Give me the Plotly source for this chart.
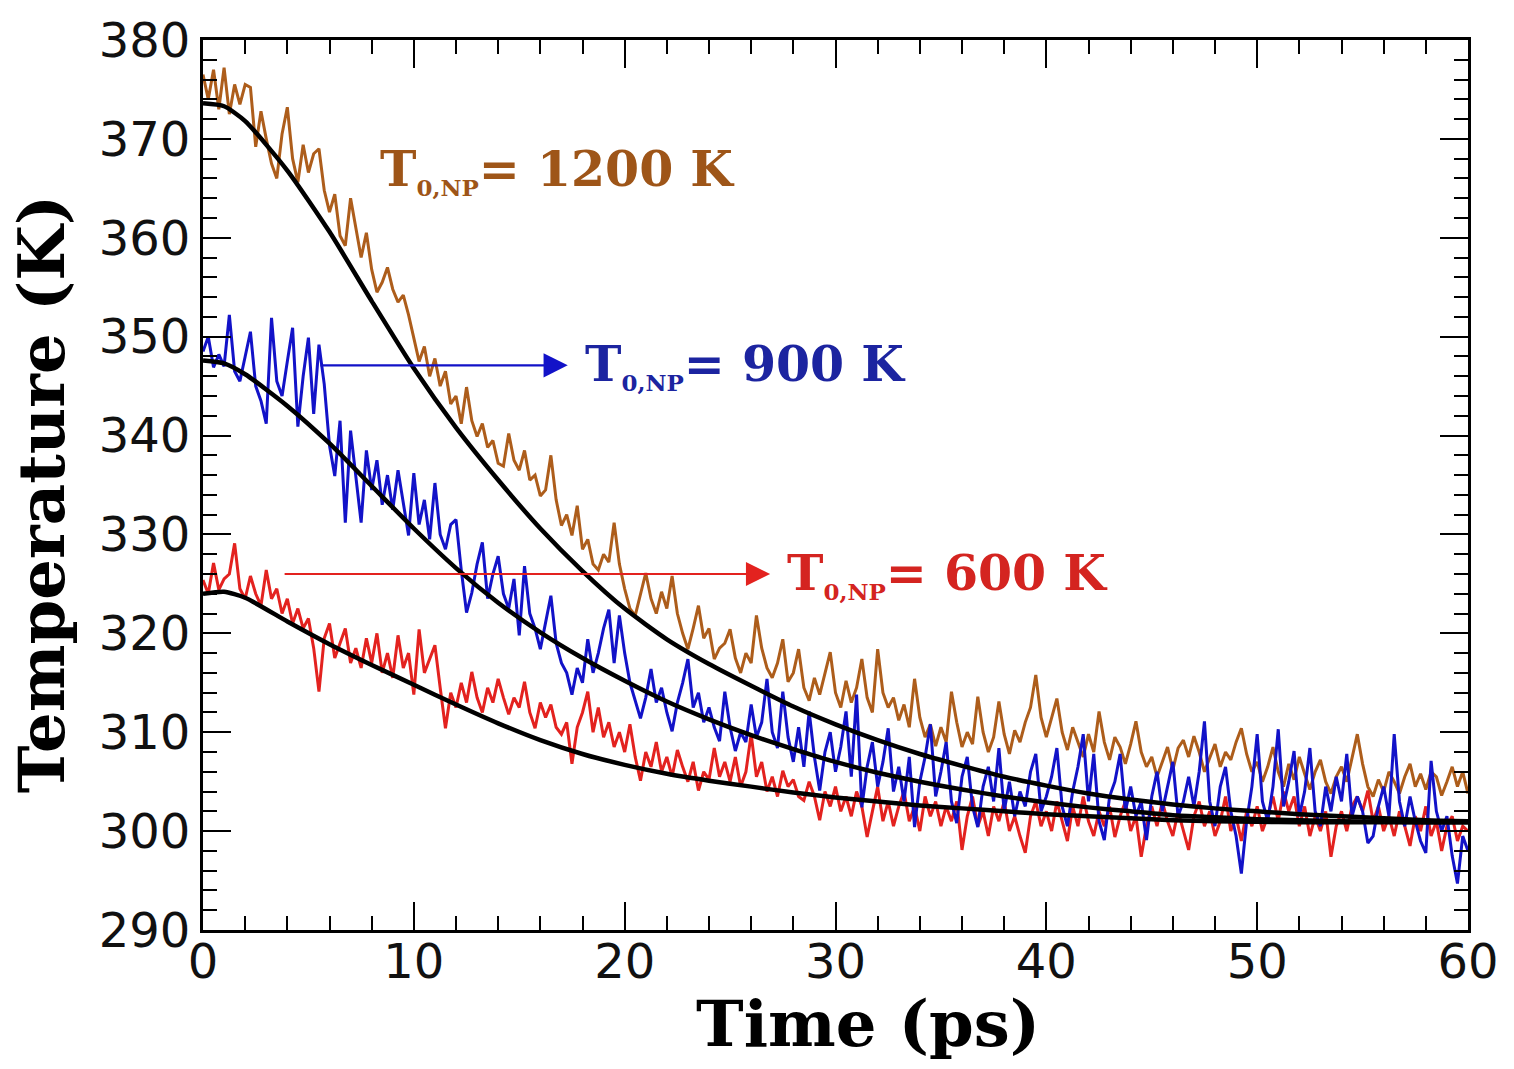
import plotly.graph_objects as go

# ---------------- data ----------------
# noisy simulation traces, sampled every 0.25 ps from 0 to 60 ps
time_step = 0.25
brown_T = [
    376.5, 374.0, 377.0, 373.0, 377.2, 372.5, 375.5, 373.5, 375.5, 375.2, 369.2, 372.8, 370.0, 367.5, 366.0, 370.5, 373.2, 368.0, 365.6, 369.4,
    366.6, 368.5, 369.0, 364.8, 362.6, 364.4, 360.2, 359.2, 364.0, 361.0, 358.0, 360.5, 356.8, 354.5, 355.5, 357.0, 354.8, 353.5, 354.2, 352.2,
    350.0, 347.5, 349.0, 346.0, 347.8, 345.0, 346.5, 343.2, 344.0, 341.2, 344.9, 341.5, 339.9, 341.2, 338.8, 339.5, 337.2, 336.9, 340.2, 337.5,
    336.5, 338.5, 335.5, 336.0, 333.9, 334.5, 338.0, 333.5, 330.9, 332.0, 329.9, 332.9, 328.5, 329.5, 327.0, 326.4, 328.0, 327.2, 331.2, 327.0,
    324.5, 322.5, 321.8, 324.0, 326.1, 323.5, 322.0, 324.2, 322.5, 325.8, 322.0, 320.0, 318.4, 320.5, 322.8, 319.5, 320.5, 317.4, 318.5, 319.0,
    320.4, 317.5, 316.0, 318.0, 317.0, 321.8, 318.5, 316.5, 315.5, 317.0, 319.4, 315.1, 316.0, 318.4, 314.5, 313.2, 315.5, 313.8, 316.0, 318.1,
    314.0, 312.5, 315.2, 313.0, 314.5, 317.4, 313.5, 312.0, 318.4, 314.0, 312.5, 313.5, 311.2, 312.8, 310.5, 315.4, 311.5, 309.5, 310.8, 308.6,
    310.5, 309.0, 314.1, 311.0, 308.5, 310.0, 308.8, 313.6, 310.0, 308.0, 309.5, 313.1, 309.8, 307.8, 310.2, 309.0, 311.0, 312.5, 315.8, 311.5,
    309.5, 311.5, 313.4, 310.0, 308.2, 310.5, 309.0, 307.5, 309.8, 308.0, 312.1, 309.0, 307.2, 309.5, 308.5, 306.8, 308.8, 311.1, 308.0, 306.5,
    307.5, 305.5, 307.0, 308.5, 306.2, 308.4, 309.2, 307.5, 309.6, 308.0, 306.0, 307.5, 308.8, 306.5, 308.0, 307.2, 309.0, 310.4, 307.8, 306.0,
    307.0, 305.0, 306.5, 308.5, 306.0, 304.5, 306.8, 305.2, 307.5, 305.8, 304.2, 306.0, 307.2, 305.0, 303.8, 305.5, 306.5, 305.0, 307.5, 309.8,
    306.8, 304.5, 303.5, 305.2, 304.0, 306.0, 305.0, 303.8, 305.5, 306.8, 304.5, 305.8, 304.2, 306.0, 305.5, 303.6, 305.0, 306.5, 304.5, 306.0,
    303.8,
]
blue_T = [
    348.5, 350.0, 346.9, 348.2, 347.0, 352.2, 346.5, 345.5, 348.0, 350.5, 345.0, 343.5, 341.2, 351.9, 345.5, 344.0, 347.5, 350.9, 340.9, 346.0,
    349.9, 342.2, 349.2, 345.2, 339.0, 335.9, 341.5, 331.2, 340.5, 336.0, 331.2, 338.5, 334.5, 337.5, 333.0, 336.0, 332.5, 336.5, 333.0, 329.9,
    336.2, 331.0, 333.5, 329.5, 335.2, 330.0, 328.5, 331.0, 331.5, 326.4, 322.1, 324.1, 327.0, 329.2, 323.5, 326.0, 327.8, 324.0, 322.5, 325.5,
    319.8, 326.8, 322.0, 320.5, 318.4, 321.0, 323.8, 319.0, 317.0, 316.0, 313.8, 316.5, 315.0, 319.4, 316.0, 318.0, 320.5, 322.4, 317.0, 321.8,
    318.0, 315.0, 313.1, 311.4, 313.5, 316.4, 313.0, 314.5, 312.0, 310.1, 313.0, 315.0, 317.4, 312.5, 314.0, 311.0, 312.5, 310.5, 309.1, 314.1,
    310.5, 308.1, 310.0, 309.0, 312.8, 309.5, 311.0, 315.4, 310.0, 308.4, 314.1, 309.5, 307.0, 310.5, 306.5, 312.1, 307.5, 304.1, 308.0, 310.0,
    306.0, 308.5, 312.1, 305.5, 313.8, 302.4, 306.5, 309.0, 304.5, 307.0, 310.4, 304.0, 306.5, 303.0, 307.5, 300.4, 305.0, 307.5, 310.8, 303.5,
    306.0, 309.0, 303.0, 300.8, 305.5, 307.5, 302.5, 300.4, 304.5, 306.5, 303.0, 308.4, 302.0, 305.0, 301.5, 304.0, 302.5, 306.0, 307.8, 302.0,
    303.5, 305.5, 308.4, 302.5, 300.5, 304.0, 306.5, 309.8, 303.0, 307.8, 301.0, 299.1, 303.5, 305.0, 307.8, 302.0, 304.5, 301.5, 303.0, 299.1,
    303.5, 306.0, 302.0, 304.5, 307.0, 301.5, 303.0, 305.5, 302.5, 306.0, 311.1, 303.0, 300.5, 304.5, 306.5, 302.0, 299.5, 295.7, 301.0, 304.5,
    309.8, 303.0, 301.0, 304.5, 310.3, 302.5, 305.0, 308.1, 301.5, 304.0, 308.4, 302.0, 300.5, 304.5, 302.0, 305.5, 303.0, 307.8, 301.5, 303.5,
    302.0, 298.8, 299.5, 302.5, 304.5, 301.5, 309.8, 303.0, 300.5, 303.5, 301.0, 299.0, 297.8, 307.1, 302.0, 300.0, 301.5, 297.5, 294.7, 299.5,
    298.0,
]
red_T = [
    325.4, 324.0, 327.1, 324.4, 325.5, 326.0, 329.1, 324.5, 323.5, 325.8, 324.0, 322.8, 326.4, 323.5, 324.5, 322.0, 323.5, 321.0, 322.5, 320.5,
    321.5, 318.5, 314.1, 319.5, 321.0, 317.5, 319.0, 320.5, 317.0, 318.5, 316.5, 319.5, 317.0, 320.0, 316.0, 318.0, 315.5, 319.8, 316.5, 318.0,
    313.8, 320.4, 316.0, 317.5, 318.8, 314.5, 310.4, 314.0, 312.5, 315.0, 313.0, 316.1, 313.5, 312.0, 314.5, 313.0, 315.4, 313.5, 311.8, 313.5,
    312.5, 315.1, 312.0, 310.4, 313.0, 311.5, 312.8, 310.5, 309.8, 311.0, 306.8, 310.5, 312.0, 314.1, 310.0, 312.5, 309.5, 311.0, 308.5, 310.0,
    308.0, 310.8, 307.5, 305.1, 308.0, 306.5, 309.0, 306.0, 307.5, 305.5, 308.2, 306.5, 305.0, 307.0, 304.1, 306.0, 305.2, 308.4, 305.5, 307.0,
    305.0, 307.5, 304.5, 306.0, 309.8, 305.5, 307.0, 304.0, 305.5, 303.5, 306.1, 304.5, 305.2, 303.5, 303.1, 305.0, 303.5, 301.1, 304.0, 302.5,
    304.5, 302.0, 303.5, 301.5, 304.0, 302.5, 299.4, 302.0, 304.5, 301.0, 303.0, 300.5, 302.5, 304.0, 301.0, 302.5, 300.0, 303.5, 301.5, 303.0,
    300.5, 302.5, 301.0, 303.0, 298.1, 301.5, 303.5, 300.5, 302.0, 299.5, 302.5, 301.0, 303.0, 300.0, 301.5, 299.5, 297.8, 301.5, 303.0, 300.5,
    302.0, 300.0, 303.0, 301.0, 299.0, 302.5, 300.5, 303.5, 301.0, 299.5, 302.0, 300.5, 302.5, 299.4, 301.5, 303.0, 300.0, 301.5, 297.4, 300.5,
    302.5, 300.5, 303.0, 301.0, 299.5, 302.0, 300.0, 298.1, 301.5, 303.0, 300.5, 302.0, 299.5, 301.0, 303.5, 300.0, 301.5, 299.0, 302.0, 300.5,
    302.5, 300.0, 301.5, 303.5, 301.0, 304.0, 302.0, 303.5, 300.5, 302.5, 299.5, 301.5, 300.0, 302.0, 297.4, 300.5, 302.0, 300.0, 302.5, 303.5,
    302.0, 304.1, 301.0, 302.5, 300.0, 301.5, 299.5, 302.0, 300.5, 298.5, 301.5, 300.0, 302.5, 299.5, 301.0, 298.0, 300.5, 301.5, 299.0, 300.5,
    300.0,
]

# fitted curves
fit_time = [0, 1, 2, 4, 6, 8, 10, 12, 14, 16, 18, 20, 22, 24, 26, 28, 30,
            32, 34, 36, 38, 40, 42, 44, 46, 48, 50, 52, 54, 56, 58, 60]
brown_fit = [373.6, 373.3, 371.8, 366.8, 360.6, 353.6, 346.8, 340.8, 335.5, 330.6, 326.3, 322.5,
             319.4, 316.9, 314.7, 312.6, 310.8, 309.2, 307.8, 306.6, 305.5, 304.6,
             303.8, 303.2, 302.7, 302.3, 302.0, 301.7, 301.5, 301.3, 301.1, 301.0]
blue_fit = [347.6, 347.3, 346.2, 343.0, 339.2, 334.9, 330.6, 326.6, 323.1, 320.1, 317.5, 315.2,
            313.1, 311.3, 309.7, 308.3, 307.0, 305.9, 305.0, 304.2, 303.5, 302.9,
            302.4, 302.0, 301.6, 301.4, 301.2, 301.1, 301.0, 300.95, 300.9, 300.9]
red_fit = [324.0, 324.2, 323.6, 321.2, 318.9, 316.8, 314.8, 312.8, 310.9, 309.2, 307.8, 306.7,
           305.8, 305.1, 304.5, 303.9, 303.4, 303.0, 302.6, 302.3, 302.0, 301.7,
           301.5, 301.3, 301.1, 301.0, 300.95, 300.9, 300.9, 300.9, 300.9, 300.9]

labels = ["1200", "900", "600"]
label_pos = [(8.3, 366.8), (18.0, 347.1), (27.6, 326.0)]   # (t, T) of label left edge
arrow_from = [None, (5.5, 347.1), (3.8, 326.0)]
arrow_to = [None, (17.3, 347.1), (26.9, 326.0)]

x_ticks = [0, 10, 20, 30, 40, 50, 60]
y_ticks = [290, 300, 310, 320, 330, 340, 350, 360, 370, 380]

BROWN = "#ad5d1b"
BROWN_TXT = "#9e5518"
BLUE = "#1212c8"
BLUE_TXT = "#1c24a0"
RED = "#e3221f"
RED_TXT = "#d42420"

t_noisy = [i * time_step for i in range(len(brown_T))]

fig = go.Figure()
for ys, col in [(brown_T, BROWN), (red_T, RED), (blue_T, BLUE)]:
    fig.add_trace(go.Scatter(x=t_noisy, y=ys, mode="lines",
                             line=dict(color=col, width=3), showlegend=False))
for ys in [brown_fit, blue_fit, red_fit]:
    fig.add_trace(go.Scatter(x=fit_time, y=ys, mode="lines",
                             line=dict(color="black", width=4.5, shape="spline", smoothing=0.6),
                             showlegend=False))

serif = "DejaVu Serif"
txt_cols = [BROWN_TXT, BLUE_TXT, RED_TXT]
line_cols = [BROWN, BLUE, RED]
annotations = []
for lab, (lx, ly), col in zip(labels, label_pos, txt_cols):
    annotations.append(dict(
        x=lx, y=ly, xref="x", yref="y", xanchor="left", yanchor="middle",
        text=("<b>T<sub><span style='font-size:23px'>0,NP</span></sub>= "
              + lab + " K</b>"),
        showarrow=False, font=dict(family=serif, size=49, color=col)))
for a0, a1, col in zip(arrow_from, arrow_to, line_cols):
    if a0 is None:
        continue
    annotations.append(dict(
        x=a1[0], y=a1[1], ax=a0[0], ay=a0[1], xref="x", yref="y",
        axref="x", ayref="y", text="", showarrow=True,
        arrowhead=2, arrowsize=2.2, arrowwidth=2.2, arrowcolor=col,
        standoff=0, startstandoff=0))

annotations.append(dict(x=0.526, y=-0.105, xref="paper", yref="paper",
                        text="<b>Time (ps)</b>", showarrow=False,
                        xanchor="center", yanchor="middle",
                        font=dict(family=serif, size=64, color="black")))
annotations.append(dict(x=-0.127, y=0.49, xref="paper", yref="paper",
                        text="<b>Temperature (K)</b>", showarrow=False,
                        textangle=-90, xanchor="center", yanchor="middle",
                        font=dict(family=serif, size=64, color="black")))

axis_common = dict(showline=True, linecolor="black", linewidth=3, mirror="ticks",
                   ticks="inside", ticklen=28, tickwidth=2, tickcolor="black",
                   showgrid=False, zeroline=False,
                   tickfont=dict(family="DejaVu Sans", size=48, color="#111111"))

fig.update_xaxes(range=[0, 60], tickvals=x_ticks, ticktext=[str(v) for v in x_ticks],
                 ticklabelstandoff=-13,
                 minor=dict(dtick=2, ticklen=14, tickwidth=2, tickcolor="black",
                            ticks="inside", showgrid=False),
                 **axis_common)
fig.update_yaxes(range=[290, 380], tickvals=y_ticks, ticktext=[str(v) for v in y_ticks],
                 minor=dict(dtick=2, ticklen=14, tickwidth=2, tickcolor="black",
                            ticks="inside", showgrid=False),
                 **axis_common)

fig.update_layout(width=1514, height=1069,
                  margin=dict(l=203, r=46, t=33, b=139),
                  paper_bgcolor="white", plot_bgcolor="white",
                  annotations=annotations)

fig.write_html("out.html")
